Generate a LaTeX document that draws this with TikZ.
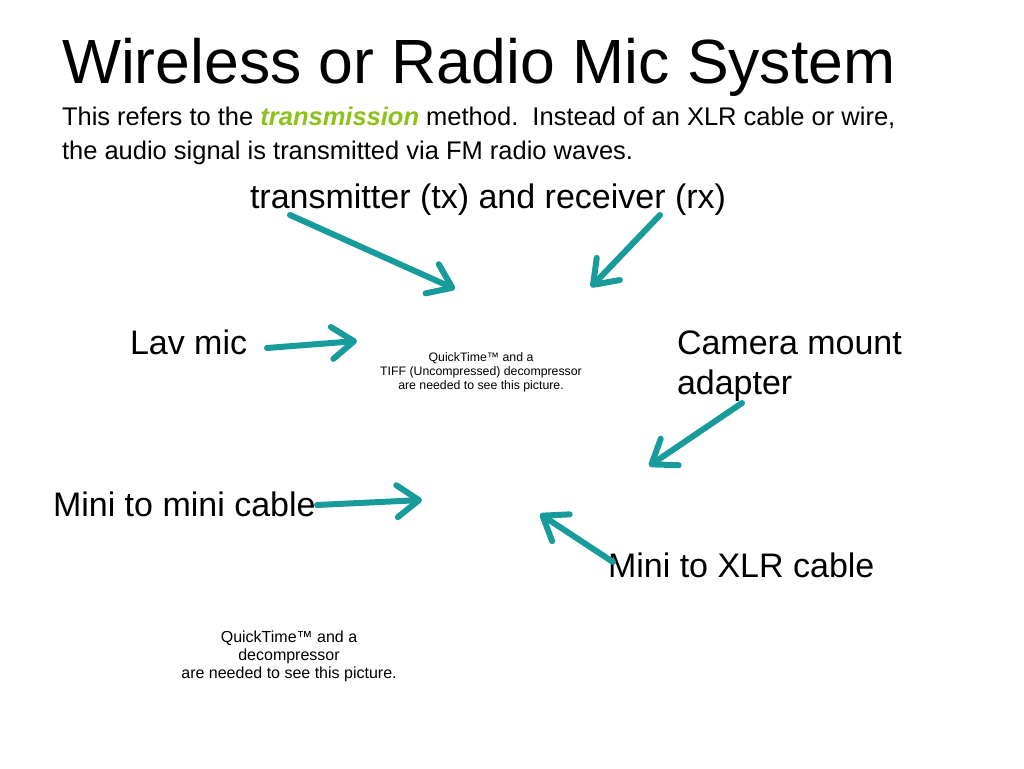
\documentclass[tikz,border=0pt]{standalone}
\usepackage{fontspec}
\setmainfont{Liberation Sans}
\usetikzlibrary{arrows.meta}
\definecolor{teal1}{HTML}{189B9B}
\definecolor{green1}{HTML}{8CC21A}
\tikzset{
  txt/.style={anchor=base west,inner sep=0pt,outer sep=0pt},
  big/.style={txt,font=\fontsize{34}{38}\selectfont},
  small/.style={align=center,inner sep=0pt,font=\fontsize{12.3}{14}\selectfont},
  arr/.style={draw=teal1,line width=6pt,line cap=round,line join=round,
    -{Straight Barb[length=22pt,width=32pt,line cap=round,line join=round]}},
}
\begin{document}
\begin{tikzpicture}[x=1pt,y=-1pt]
\useasboundingbox[fill=white] (0,0) rectangle (1024,768);
\node[txt,font=\fontsize{62.5}{70}\selectfont] (title) at (62,83) {Wireless or Radio Mic System};
\node[txt,font=\fontsize{25.5}{33}\selectfont] (sub1) at (62,125) {This refers to the \textcolor{green1}{\textbf{\textit{transmission}}} method.\ \ Instead of an XLR cable or wire,};
\node[txt,font=\fontsize{25.5}{33}\selectfont] (sub2) at (62,159) {the audio signal is transmitted via FM radio waves.};
\node[big] (txrx) at (250,208) {transmitter (tx) and receiver (rx)};
\node[big] (lav) at (130,354) {Lav mic};
\node[big] (cam) at (677,354) {Camera mount};
\node[big] (cam2) at (677,394) {adapter};
\node[big] (mm) at (53,516) {Mini to mini cable};
\node[big] (mx) at (608,577) {Mini to XLR cable};
\node[small] (qt1) at (481,372) {QuickTime™ and a\\TIFF (Uncompressed) decompressor\\are needed to see this picture.};
\node[small,font=\fontsize{16}{18}\selectfont] (qt2) at (289,656) {QuickTime™ and a\\decompressor\\are needed to see this picture.};
\coordinate (a1s) at (290,215); \coordinate (a1e) at (455,289);
\coordinate (a2s) at (660,215); \coordinate (a2e) at (591,287);
\coordinate (a3s) at (267,348); \coordinate (a3e) at (357,341);
\coordinate (a4s) at (742,403); \coordinate (a4e) at (649,466);
\coordinate (a5s) at (317,505); \coordinate (a5e) at (422,500);
\coordinate (a6s) at (613,562); \coordinate (a6e) at (540,514);
\draw[arr] (a1s) -- (a1e);
\draw[arr] (a2s) -- (a2e);
\draw[arr] (a3s) -- (a3e);
\draw[arr] (a4s) -- (a4e);
\draw[arr] (a5s) -- (a5e);
\draw[arr] (a6s) -- (a6e);
\end{tikzpicture}
\end{document}
